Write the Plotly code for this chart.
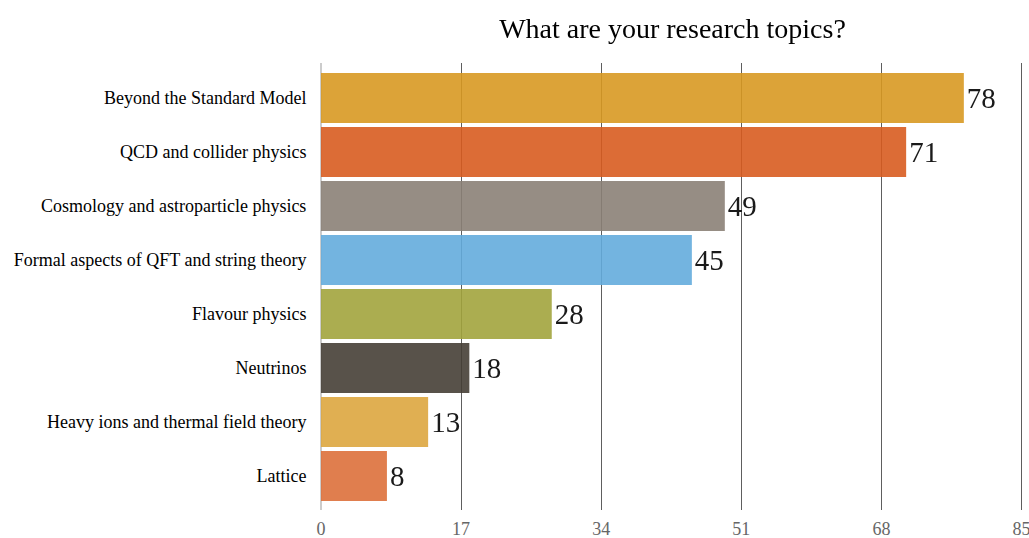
import plotly.graph_objects as go

topics = [
    "Beyond the Standard Model",
    "QCD and collider physics",
    "Cosmology and astroparticle physics",
    "Formal aspects of QFT and string theory",
    "Flavour physics",
    "Neutrinos",
    "Heavy ions and thermal field theory",
    "Lattice",
]
counts = [78, 71, 49, 45, 28, 18, 13, 8]
bar_colors = [
    "rgb(216,153,34)",
    "rgb(216,92,32)",
    "rgb(139,129,119)",
    "rgb(100,172,221)",
    "rgb(162,164,61)",
    "rgb(70,63,54)",
    "rgb(221,166,63)",
    "rgb(221,112,58)",
]
x_ticks = [0, 17, 34, 51, 68, 85]

SERIF = "Liberation Serif, Times New Roman, serif"

fig = go.Figure()

fig.add_trace(go.Bar(
    y=topics,
    x=counts,
    orientation="h",
    marker=dict(color=bar_colors, line=dict(width=0)),
    opacity=0.9,
    text=[str(c) for c in counts],
    textposition="outside",
    cliponaxis=False,
    textfont=dict(family=SERIF, size=29, color="black"),
    hoverinfo="skip",
))

fig.update_layout(
    title=dict(text="What are your research topics?", x=0.5, xref="paper",
               y=0.948, yref="container", xanchor="center", yanchor="middle",
               font=dict(family=SERIF, size=28, color="black")),
    width=1029,
    height=538,
    margin=dict(l=321, r=5, t=63, b=28, autoexpand=False),
    plot_bgcolor="white",
    paper_bgcolor="white",
    bargap=0.075,
    showlegend=False,
    font=dict(family=SERIF, color="black"),
    xaxis=dict(
        # a bit of room past 85 so its gridline isn't dropped at the edge
        range=[0, 85.3], tickvals=x_ticks, showgrid=True, gridcolor="#5e5e5e",
        gridwidth=1, zeroline=True, zerolinecolor="#cccccc", zerolinewidth=1.5,
        tickfont=dict(family=SERIF, size=18, color="#666666"),
        showline=False, ticks="outside", ticklen=2, tickcolor="rgba(0,0,0,0)",
        ticklabeloverflow="allow", automargin=False,
    ),
    yaxis=dict(
        categoryorder="array", categoryarray=topics,
        range=[7.63, -0.65], showgrid=False,
        ticks="outside", ticklen=10, tickcolor="rgba(0,0,0,0)",
        tickfont=dict(family=SERIF, size=18, color="black"),
        showline=False, automargin=False,
    ),
)

# drop the page's default body margin so the figure fills the window
fig.write_html("out.html", config=dict(displayModeBar=False),
               post_script="document.body.style.margin='0';"
                           "document.body.style.overflow='hidden';")
